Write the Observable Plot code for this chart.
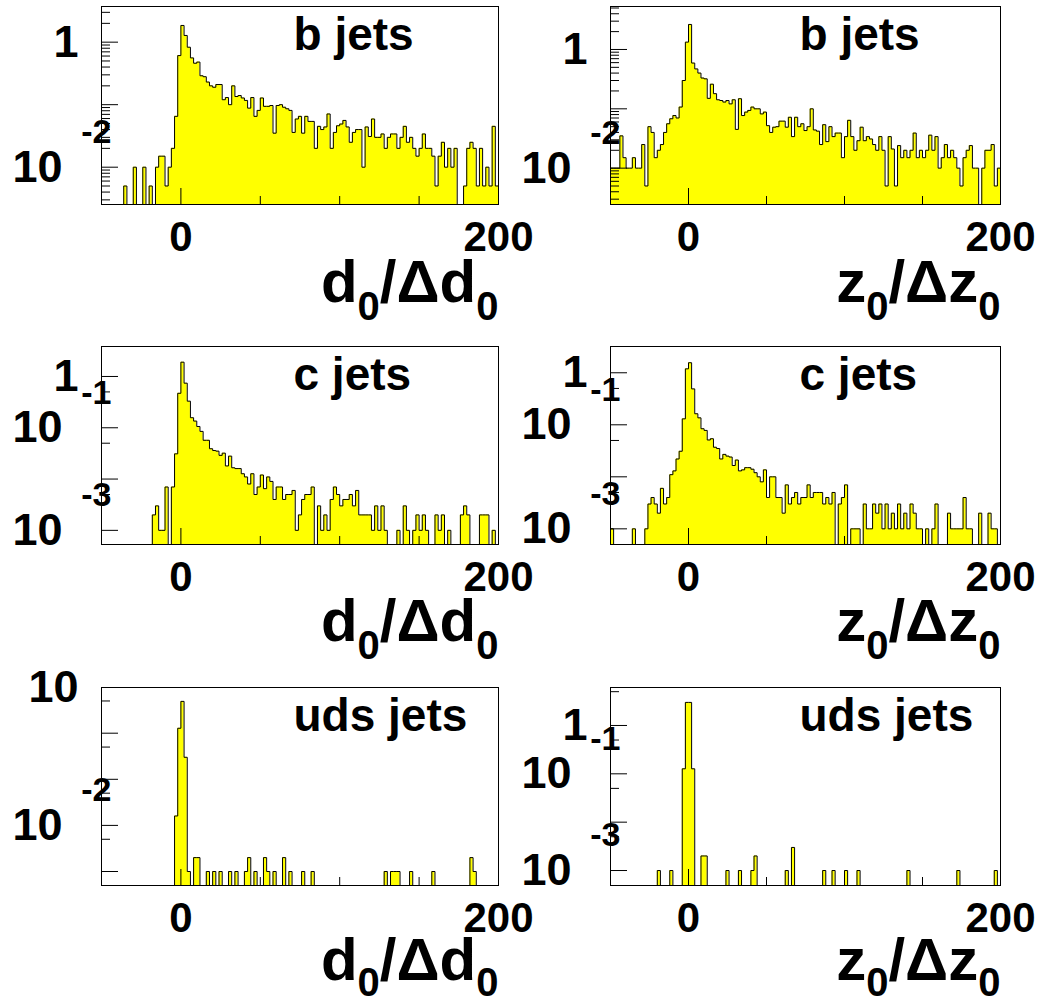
<!DOCTYPE html>
<html><head><meta charset="utf-8">
<script src="https://cdn.jsdelivr.net/npm/d3@7"></script>
<script src="https://cdn.jsdelivr.net/npm/@observablehq/plot@0.6"></script>
<style>
body{margin:0;background:#fff;}
#fig{position:relative;width:1051px;height:1004px;overflow:hidden;background:#fff;}
#fig svg{position:absolute;}
</style></head><body><div id="fig"></div>
<script>
// ---------------- data ----------------
const binStart = -50, binWidth = 2;           // histogram binning (125 bins, -50..200)
const xTickLabels = [0, 200];
const xMajorTicks = [0, 200];
const xMinorTicks = [50, 100, 150];

const bD0 = [0,0,0,0,0,0,0,0.005,0,0,
 0.01,0,0,0.01,0,0.005,0,0.01,0.015,0.015,
 0.005,0.01,0.02,0.065,0.61,1.85,1.28,0.83,0.56,0.46,
 0.48,0.29,0.28,0.23,0.20,0.19,0.21,0.21,0.12,0.13,
 0.10,0.20,0.135,0.14,0.128,0.117,0.088,0.13,0.065,0.081,
 0.128,0.094,0.094,0.097,0.035,0.097,0.10,0.091,0.086,0.081,
 0.036,0.059,0.065,0.035,0.065,0.054,0.054,0.02,0.045,0.04,
 0.044,0.071,0.02,0.036,0.046,0.049,0.056,0.044,0.025,0.036,
 0.04,0.04,0.01,0.044,0.031,0.059,0.03,0.03,0.034,0.02,
 0.03,0.034,0.034,0.02,0.03,0.045,0.025,0.03,0.02,0.015,
 0.02,0.034,0.02,0.02,0.015,0.005,0.015,0.025,0.01,0.02,
 0.01,0.02,0,0,0.005,0.02,0.025,0.02,0.005,0.02,
 0.005,0.01,0.005,0.045,0.005];

const bZ0 = [0.01,0.01,0.01,0.035,0.015,0.01,0.01,0.015,0.01,0.01,
 0.025,0.005,0.05,0.04,0.015,0.02,0.025,0.04,0.056,0.068,
 0.077,0.07,0.107,0.30,1.33,2.64,0.59,0.47,0.40,0.33,
 0.32,0.15,0.26,0.18,0.142,0.138,0.13,0.138,0.121,0.142,
 0.045,0.148,0.077,0.088,0.094,0.107,0.10,0.10,0.082,0.088,
 0.052,0.04,0.049,0.05,0.062,0.062,0.049,0.072,0.034,0.072,
 0.05,0.056,0.043,0.05,0.10,0.044,0.042,0.025,0.054,0.028,
 0.05,0.034,0.039,0.039,0.015,0.034,0.064,0.034,0.02,0.029,
 0.049,0.029,0.034,0.031,0.025,0.02,0.034,0.02,0.005,0.034,
 0.021,0.005,0.024,0.015,0.02,0.015,0.02,0.039,0.015,0.02,
 0.015,0.02,0.036,0.02,0.034,0.01,0.015,0.025,0.015,0.02,
 0.015,0.01,0.005,0.015,0.02,0.024,0.01,0.01,0,0.01,
 0.02,0.02,0.025,0.005,0.01];

const cD0 = [0,0,0,0,0,0,0,0,0,0,
 0,0,0,0,0,0,0.002,0.003,0.001,0.001,
 0.007,0,0.007,0.031,0.47,1.9,0.74,0.33,0.157,0.135,
 0.106,0.085,0.057,0.057,0.039,0.036,0.035,0.029,0.032,0.018,
 0.028,0.0166,0.016,0.016,0.0127,0.011,0.008,0.0127,0.005,0.007,
 0.012,0.0065,0.011,0.009,0.004,0.007,0.007,0.004,0.005,0.005,
 0.006,0.001,0.002,0.004,0.005,0.005,0.007,0,0.003,0.001,
 0.002,0.001,0.004,0.007,0.005,0.003,0.004,0.004,0.005,0.003,
 0.006,0.002,0.002,0.002,0.002,0.001,0.003,0.001,0.003,0.001,
 0,0,0,0.001,0,0.003,0.001,0,0.001,0.002,
 0.001,0.002,0.001,0,0,0.002,0.001,0.002,0,0.001,
 0,0,0,0.002,0.003,0.002,0,0,0,0.002,
 0.002,0.002,0,0.001,0];

const cZ0 = [0.001,0,0,0,0,0,0,0.001,0,0,
 0,0.001,0.003,0.004,0.003,0.002,0.006,0.003,0.004,0.011,
 0.013,0.022,0.031,0.13,1.19,1.56,0.49,0.163,0.136,0.084,
 0.078,0.051,0.054,0.037,0.035,0.022,0.027,0.025,0.024,0.0165,
 0.021,0.013,0.0136,0.015,0.015,0.014,0.012,0.01,0.008,0.0136,
 0.004,0.01,0.01,0.004,0.004,0.002,0.007,0.003,0.004,0.005,
 0.003,0.004,0.004,0.007,0.004,0.005,0.005,0.005,0.003,0.004,
 0.003,0.005,0,0.003,0.004,0.007,0,0.001,0.001,0.001,
 0,0.003,0.001,0.001,0.003,0.002,0.003,0.001,0.003,0.001,
 0.002,0.001,0.003,0.001,0.002,0.001,0.003,0.002,0.001,0.001,
 0,0.001,0,0.001,0.003,0,0,0,0.002,0.001,
 0.001,0.001,0.001,0.004,0.001,0.001,0,0,0.002,0,
 0,0.002,0.001,0.001,0];

const udsD0 = [0,0,0,0,0,0,0,0,0,0,
 0,0,0,0,0,0,0,0,0,0,
 0,0,0,0.016,1.28,4.9,0.30,0.001,0,0.002,
 0.002,0,0,0.001,0,0.001,0,0.001,0,0,
 0.001,0,0.001,0,0,0.001,0.002,0,0.001,0,
 0,0.002,0.001,0,0.001,0,0,0.002,0,0.001,
 0,0,0,0.001,0,0,0.001,0,0,0,
 0,0,0,0,0,0,0,0,0,0,
 0,0,0,0,0,0,0,0,0,0.001,
 0,0.001,0.001,0.001,0,0,0,0.001,0,0,
 0,0,0,0,0.001,0,0,0,0,0,
 0,0,0,0,0,0,0.002,0.001,0,0,
 0,0,0,0,0];

const udsZ0 = [0,0,0,0,0,0,0,0,0,0,
 0,0,0,0,0,0.001,0,0,0,0.001,
 0,0,0,0.127,3.0,3.0,0.127,0,0,0.002,
 0.002,0,0,0,0,0,0,0.001,0,0,
 0,0.001,0,0,0,0.001,0.002,0,0,0,
 0,0,0,0,0,0,0.001,0,0.003,0,
 0,0,0,0,0,0,0,0,0.001,0,
 0,0.001,0,0,0,0.001,0,0,0,0.001,
 0,0,0,0,0,0,0,0,0,0,
 0,0,0,0,0,0.001,0,0,0,0,
 0,0,0,0,0,0,0,0,0,0,
 0,0.001,0,0,0,0,0,0,0,0,
 0,0,0,0.001,0];

const jetLabels = ["b jets", "b jets", "c jets", "c jets", "uds jets", "uds jets"];
const titleD = [{t:"d"},{t:"0",sub:true},{t:"/\u0394d"},{t:"0",sub:true}];
const titleZ = [{t:"z"},{t:"0",sub:true},{t:"/\u0394z"},{t:"0",sub:true}];

const yDomains = [[0.00253, 3.72], [0.00244, 5.3], [0.00053, 3.84], [0.0005, 3.2], [0.000497, 9.8], [0.00049, 6.1]];
const fineMajor = [0.001, 0.01, 0.1, 1, 10];
const fineMinor = [0.002,0.003,0.004,0.005,0.006,0.007,0.008,0.009,
  0.02,0.03,0.04,0.05,0.06,0.07,0.08,0.09,0.2,0.3,0.4,0.5,0.6,0.7,0.8,0.9,2,3,4,5,6,7,8,9];
const coarseMinor = [0.005, 0.05, 0.5, 5];
// tick labels: plain numbers and "10^n" labels (ROOT style)
const plainLabelsB = [{v:1, t:"1"}], powerLabelsB = [{v:0.01, e:"-2"}];
const plainLabelsC = [{v:1, t:"1"}], powerLabelsC = [{v:0.1, e:"-1"}, {v:0.001, e:"-3"}];
const plainLabelsUdsD = [{v:10, t:"10"}], powerLabelsUdsD = [{v:0.01, e:"-2"}];

// ---------------- drawing ----------------
const FONT = "'Liberation Sans', Arial, Helvetica, sans-serif";
const panels = [
  {values:bD0, dom:yDomains[0], minor:fineMinor, plain:plainLabelsB, power:powerLabelsB, title:titleD, label:jetLabels[0], col:0, row:0},
  {values:bZ0, dom:yDomains[1], minor:fineMinor, plain:plainLabelsB, power:powerLabelsB, title:titleZ, label:jetLabels[1], col:1, row:0},
  {values:cD0, dom:yDomains[2], minor:coarseMinor, plain:plainLabelsC, power:powerLabelsC, title:titleD, label:jetLabels[2], col:0, row:1},
  {values:cZ0, dom:yDomains[3], minor:coarseMinor, plain:plainLabelsC, power:powerLabelsC, title:titleZ, label:jetLabels[3], col:1, row:1},
  {values:udsD0, dom:yDomains[4], minor:coarseMinor, plain:plainLabelsUdsD, power:powerLabelsUdsD, title:titleD, label:jetLabels[4], col:0, row:2},
  {values:udsZ0, dom:yDomains[5], minor:coarseMinor, plain:plainLabelsC, power:powerLabelsC, title:titleZ, label:jetLabels[5], col:1, row:2}
];
const cols = [{left:0, width:525, mL:101, mR:27}, {left:525, width:526, mL:85, mR:51}];
const rows = [{top:0, height:335, mT:6, mB:131, tdy:97, sub:18}, {top:335, height:335, mT:11, mB:126, tdy:96, sub:18},
              {top:670, height:334, mT:17, mB:119, tdy:94, sub:16}];

const fig = document.getElementById("fig");
for (const p of panels) {
  const c = cols[p.col], r = rows[p.row];
  const fw = c.width - c.mL - c.mR, fh = r.height - r.mT - r.mB;
  const yMin = p.dom[0];
  const bins = p.values.map((v, i) => ({x1: binStart + i * binWidth, x2: binStart + (i + 1) * binWidth, v}));
  const steps = bins.map(b => ({x: b.x1, y: b.v > 0 ? b.v : yMin}));
  steps.push({x: bins[bins.length - 1].x2, y: steps[steps.length - 1].y});
  const inDom = d => d >= p.dom[0] && d <= p.dom[1];
  const titleText = p.title.map(d => d.t).join("");
  const svg = Plot.plot({
    width: c.width, height: r.height,
    marginLeft: c.mL, marginRight: c.mR, marginTop: r.mT, marginBottom: r.mB,
    style: {background: "transparent", overflow: "visible", fontFamily: FONT, color: "black"},
    x: {domain: [-50, 200], axis: null},
    y: {type: "log", domain: p.dom, axis: null},
    marks: [
      Plot.areaY(steps, {x: "x", y1: () => yMin, y2: "y", curve: "step-after", fill: "#ffff00"}),
      Plot.line(steps, {x: "x", y: "y", curve: "step-after", stroke: "black", strokeWidth: 1}),
      Plot.ruleX(xMajorTicks, {insetTop: fh - 16, stroke: "black"}),
      Plot.ruleX(xMinorTicks, {insetTop: fh - 8, stroke: "black"}),
      Plot.ruleY(fineMajor.filter(inDom), {insetRight: fw - 17, stroke: "black"}),
      Plot.ruleY(p.minor.filter(inDom), {insetRight: fw - 9, stroke: "black"}),
      Plot.frame({stroke: "black"}),
      Plot.text([p.label], {text: d => d, frameAnchor: "top-left", textAnchor: "start", lineAnchor: "bottom",
        dx: Math.round(0.484 * fw), dy: 43, fontSize: 46, fontWeight: "bold"}),
      Plot.text(xTickLabels, {x: d => d, text: d => String(d), frameAnchor: "bottom", lineAnchor: "bottom",
        dy: 46, fontSize: 42, fontWeight: "bold"}),
      Plot.text([titleText], {text: d => d, frameAnchor: "bottom-right", textAnchor: "end", lineAnchor: "bottom",
        dy: r.tdy, fontSize: 60, fontWeight: "bold"}),
      Plot.text(p.plain, {y: "v", text: "t", frameAnchor: "left", textAnchor: "end", lineAnchor: "middle",
        dx: -23, fontSize: 45, fontWeight: "bold"}),
      Plot.text(p.power, {y: "v", text: () => "10", frameAnchor: "left", textAnchor: "end", lineAnchor: "middle",
        dx: -39, fontSize: 45, fontWeight: "bold"}),
      Plot.text(p.power, {y: "v", text: "e", frameAnchor: "left", textAnchor: "end", lineAnchor: "middle",
        dx: 10, dy: -35, fontSize: 34, fontWeight: "bold"})
    ]
  });
  svg.style.left = c.left + "px";
  svg.style.top = r.top + "px";
  // subscripts in axis title
  d3.select(svg).selectAll("text").filter(function() { return this.textContent === titleText; }).each(function() {
    const el = d3.select(this);
    el.text(null);
    let shift = 0;
    for (const part of p.title) {
      const ts = el.append("tspan").text(part.t);
      const target = part.sub ? r.sub : 0;
      if (target !== shift) ts.attr("dy", target - shift);
      if (part.sub) ts.attr("font-size", 40);
      shift = target;
    }
  });
  fig.appendChild(svg);
}
</script></body></html>
